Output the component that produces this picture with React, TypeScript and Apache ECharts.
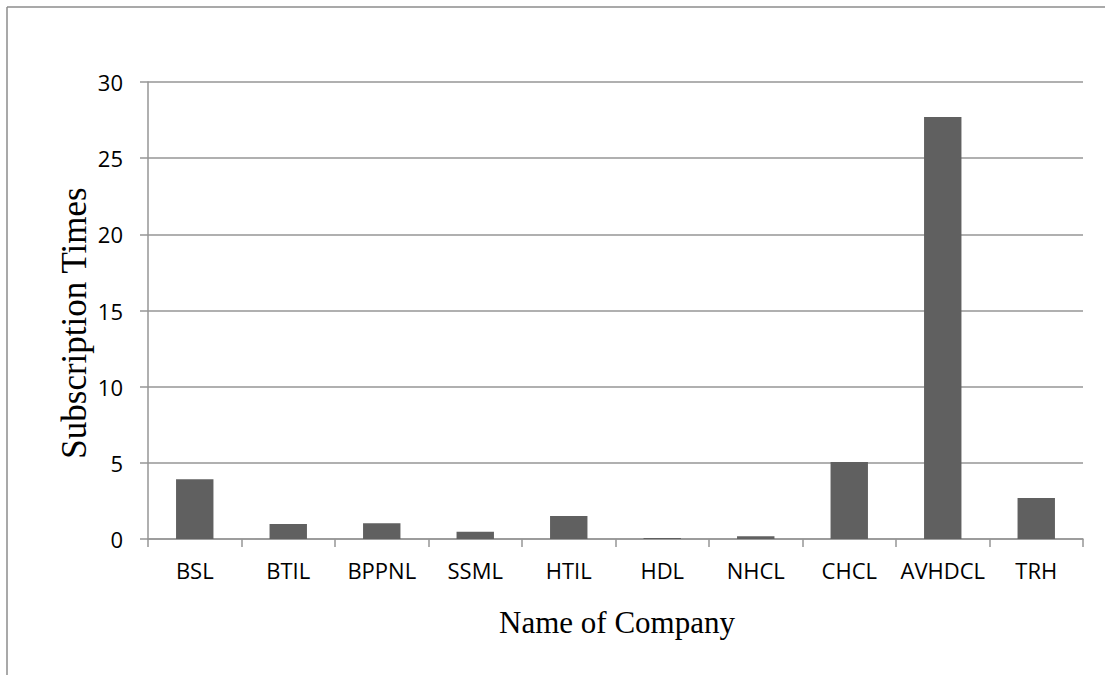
import React, { useEffect, useRef } from "react";
import * as echarts from "echarts";

const companies = ["BSL", "BTIL", "BPPNL", "SSML", "HTIL", "HDL", "NHCL", "CHCL", "AVHDCL", "TRH"];
const subscriptionTimes = [3.92, 0.98, 1.03, 0.48, 1.51, 0.07, 0.18, 5.06, 27.7, 2.69];
const yMin = 0;
const yMax = 30;
const yInterval = 5;
const xTitle = "Name of Company";
const yTitle = "Subscription Times";

export default function App() {
  const ref = useRef<HTMLDivElement>(null);
  useEffect(() => {
    if (!ref.current) return;
    const chart = echarts.init(ref.current, undefined, { renderer: "svg" });
    const axisColor = "#969696";
    chart.setOption({
      animation: false,
      backgroundColor: "#ffffff",
      grid: { left: 148, top: 82, right: 22, bottom: 136, containLabel: false },
      xAxis: {
        type: "category",
        data: companies,
        boundaryGap: true,
        axisLine: { show: true, lineStyle: { color: axisColor, width: 1.5 } },
        axisTick: { show: true, alignWithLabel: false, interval: 0, length: 8, lineStyle: { color: axisColor, width: 1.5 } },
        axisLabel: { color: "#000", fontFamily: "Open Sans", fontSize: 22, margin: 20, interval: 0 },
        splitLine: { show: false },
      },
      yAxis: {
        type: "value",
        min: yMin,
        max: yMax,
        interval: yInterval,
        axisLine: { show: true, lineStyle: { color: axisColor, width: 1.5 } },
        axisTick: { show: true, length: 8, lineStyle: { color: axisColor, width: 1.5 } },
        axisLabel: { color: "#000", fontFamily: "Open Sans", fontSize: 22, margin: 25 },
        splitLine: { show: true, lineStyle: { color: axisColor, width: 1.5 } },
      },
      series: [
        {
          type: "bar",
          data: subscriptionTimes,
          barWidth: "40%",
          itemStyle: { color: "#606060" },
        },
      ],
      graphic: [
        { type: "line", shape: { x1: 7, y1: 7, x2: 1105, y2: 7 }, style: { stroke: "#8c8c8c", lineWidth: 1.5 } },
        { type: "line", shape: { x1: 7, y1: 7, x2: 7, y2: 675 }, style: { stroke: "#8c8c8c", lineWidth: 1.5 } },
        {
          type: "text",
          x: 617,
          y: 622,
          style: {
            text: xTitle,
            fontFamily: "Liberation Serif",
            fontSize: 31,
            fill: "#000",
            align: "center",
            verticalAlign: "middle",
          },
        },
        {
          type: "text",
          x: 74,
          y: 323,
          rotation: Math.PI / 2,
          style: {
            text: yTitle,
            fontFamily: "Liberation Serif",
            fontSize: 35,
            fill: "#000",
            align: "center",
            verticalAlign: "middle",
          },
        },
      ],
    });
    return () => chart.dispose();
  }, []);
  return <div ref={ref} style={{ position: "fixed", left: 0, top: 0, width: 1105, height: 675 }} />;
}
